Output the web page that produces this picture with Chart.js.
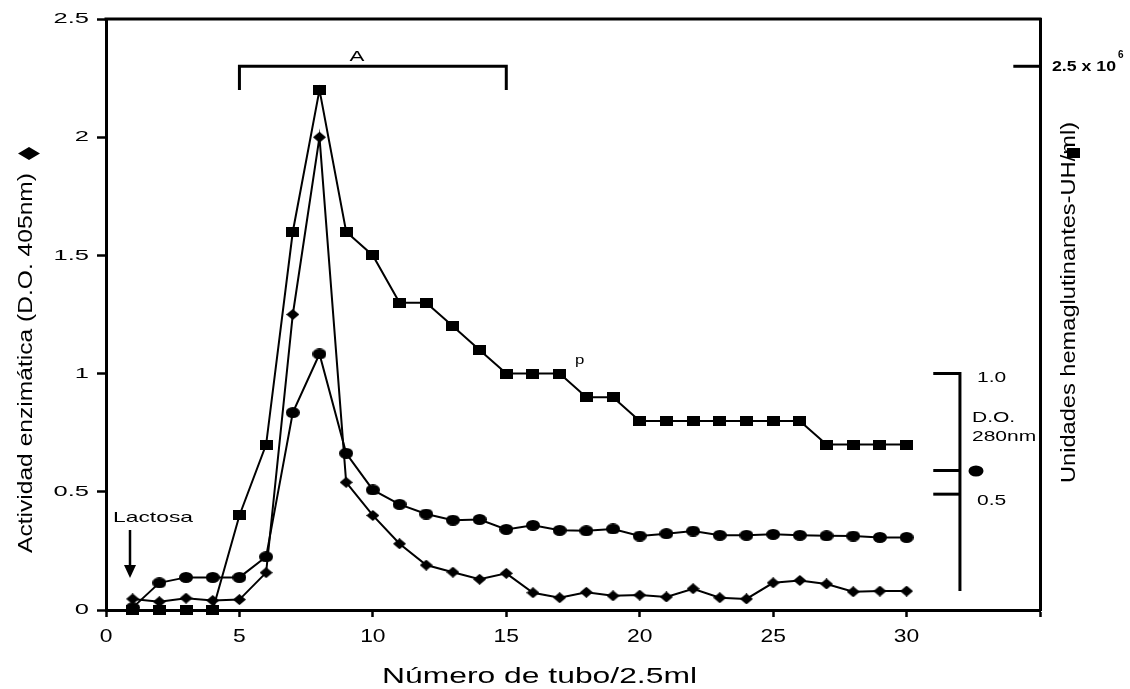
<!DOCTYPE html>
<html>
<head>
<meta charset="utf-8">
<script src="https://cdn.jsdelivr.net/npm/chart.js@4.4.1/dist/chart.umd.min.js"></script>
<style>
  html, body { margin: 0; padding: 0; background: #fff; }
  #grafico { display: block; }
</style>
</head>
<body>
<canvas id="grafico" width="1130" height="689"></canvas>
<script>
// Datos (tubos 1 a 30)
const tubos = [1, 2, 3, 4, 5, 6, 7, 8, 9, 10, 11, 12, 13, 14, 15, 16, 17, 18, 19, 20, 21, 22, 23, 24, 25, 26, 27, 28, 29, 30];
const hemaglutinacion = [0, 0, 0, 0, 0.4, 0.7, 1.6, 2.2, 1.6, 1.5, 1.3, 1.3, 1.2, 1.1, 1.0, 1.0, 1.0, 0.9, 0.9, 0.8, 0.8, 0.8, 0.8, 0.8, 0.8, 0.8, 0.7, 0.7, 0.7, 0.7];
const actividad = [0.047, 0.035, 0.05, 0.04, 0.044, 0.158, 1.25, 2.0, 0.54, 0.40, 0.28, 0.19, 0.16, 0.13, 0.155, 0.073, 0.052, 0.075, 0.06, 0.063, 0.055, 0.09, 0.052, 0.047, 0.115, 0.125, 0.11, 0.077, 0.08, 0.08];
const proteina = [0.01, 0.115, 0.138, 0.138, 0.138, 0.225, 0.835, 1.083, 0.663, 0.508, 0.447, 0.406, 0.38, 0.383, 0.341, 0.358, 0.337, 0.335, 0.343, 0.313, 0.323, 0.334, 0.316, 0.316, 0.32, 0.316, 0.314, 0.313, 0.307, 0.307];
const ticksX = [0, 5, 10, 15, 20, 25, 30];
const ticksY = [0, 0.5, 1, 1.5, 2, 2.5];

const fuente = "'Liberation Sans', Arial, sans-serif";

// marcadores un poco achatados, como en la figura original
function marcador(forma, w, h) {
  const c = document.createElement('canvas');
  c.width = w; c.height = h;
  const g = c.getContext('2d');
  g.fillStyle = '#000';
  g.beginPath();
  if (forma === 'cuadro') {
    g.rect(0, 0, w, h);
  } else if (forma === 'rombo') {
    g.moveTo(w / 2, 0); g.lineTo(w, h / 2); g.lineTo(w / 2, h); g.lineTo(0, h / 2); g.closePath();
  } else {
    g.ellipse(w / 2, h / 2, w / 2, h / 2, 0, 0, Math.PI * 2);
  }
  g.fill();
  return c;
}

// texto con escala horizontal (la figura tiene el texto estirado o comprimido)
function texto(ctx, str, x, y, o) {
  ctx.save();
  ctx.font = o.font;
  ctx.textAlign = o.align || 'left';
  ctx.textBaseline = o.baseline || 'middle';
  ctx.fillStyle = '#000';
  ctx.translate(x, y);
  if (o.rot) ctx.rotate(o.rot);
  let sx = o.sx || 1;
  if (o.ancho) sx = o.ancho / ctx.measureText(str).width;
  ctx.scale(sx, 1);
  ctx.fillText(str, 0, 0);
  ctx.restore();
}

function linea(ctx, pts, w) {
  ctx.lineWidth = w;
  ctx.beginPath();
  ctx.moveTo(pts[0][0], pts[0][1]);
  for (let i = 1; i < pts.length; i++) ctx.lineTo(pts[i][0], pts[i][1]);
  ctx.stroke();
}

const extras = {
  id: 'extras',
  afterDraw(chart) {
    const ctx = chart.ctx;
    const a = chart.chartArea;
    const sx = chart.scales.x, sy = chart.scales.y;
    const px = v => sx.getPixelForValue(v);
    const py = v => sy.getPixelForValue(v);
    ctx.save();
    ctx.strokeStyle = '#000';
    ctx.fillStyle = '#000';
    ctx.lineCap = 'butt';

    // borde superior
    linea(ctx, [[a.left - 1.5, a.top], [a.right + 1.5, a.top]], 3);

    // etiquetas de los ejes
    ticksY.forEach(v => texto(ctx, String(v), 89, py(v), { font: '15px ' + fuente, sx: 1.7, align: 'right' }));
    ticksX.forEach(v => texto(ctx, String(v), px(v), 637, { font: '18px ' + fuente, sx: 1.27, align: 'center' }));

    // títulos
    texto(ctx, 'Número de tubo/2.5ml', 382, 683, { font: '22px ' + fuente, ancho: 315, baseline: 'alphabetic' });
    texto(ctx, 'Actividad enzimática (D.O. 405nm)', 32, 553, { font: '21px ' + fuente, ancho: 380, baseline: 'alphabetic', rot: -Math.PI / 2 });
    ctx.beginPath();
    ctx.moveTo(18, 153.5); ctx.lineTo(29, 147); ctx.lineTo(40, 153.5); ctx.lineTo(29, 160); ctx.closePath();
    ctx.fill();
    texto(ctx, 'Unidades hemaglutinantes-UH/ml)', 1075, 483, { font: '21px ' + fuente, ancho: 361, baseline: 'alphabetic', rot: -Math.PI / 2 });
    ctx.fillRect(1067, 148, 13, 10);

    // eje derecho: marca 2.5 x 10^6
    linea(ctx, [[px(34), py(2.3)], [a.right, py(2.3)]], 3);
    texto(ctx, '2.5 x 10', 1052, 67, { font: 'bold 14px ' + fuente, ancho: 64 });
    texto(ctx, '6', 1118, 55, { font: 'bold 10px ' + fuente });

    // corchete A
    linea(ctx, [[px(5), py(2.2)], [px(5), py(2.3)], [px(15), py(2.3)], [px(15), py(2.2)]], 3);
    texto(ctx, 'A', 357, 57, { font: '14px ' + fuente, sx: 1.6, align: 'center' });
    texto(ctx, 'p', 575, 361, { font: '12px ' + fuente, sx: 1.4 });

    // Lactosa y flecha
    texto(ctx, 'Lactosa', 113, 522, { font: '15px ' + fuente, ancho: 80, baseline: 'alphabetic' });
    linea(ctx, [[130, 530], [130, 567]], 2.5);
    ctx.beginPath();
    ctx.moveTo(124, 565); ctx.lineTo(136, 565); ctx.lineTo(130, 578); ctx.closePath();
    ctx.fill();

    // escala D.O. 280nm
    linea(ctx, [[px(31), py(1.0)], [px(32), py(1.0)], [px(32), py(0.08)]], 3);
    linea(ctx, [[px(31), py(0.59)], [px(32), py(0.59)]], 3);
    linea(ctx, [[px(31), py(0.49)], [px(32), py(0.49)]], 3);
    texto(ctx, '1.0', 977, 378, { font: '15px ' + fuente, sx: 1.4 });
    texto(ctx, 'D.O.', 972, 418, { font: '15px ' + fuente, sx: 1.4 });
    texto(ctx, '280nm', 972, 437, { font: '15px ' + fuente, sx: 1.4 });
    texto(ctx, '0.5', 977, 501, { font: '15px ' + fuente, sx: 1.4 });
    ctx.beginPath();
    ctx.ellipse(976, 471, 7.5, 5.5, 0, 0, Math.PI * 2);
    ctx.fill();

    ctx.restore();
  }
};

const serie = (valores, estilo) => ({
  data: tubos.map((t, i) => ({ x: t, y: valores[i] })),
  borderColor: '#000',
  borderWidth: 2,
  tension: 0,
  pointStyle: estilo,
  pointRadius: 7,
  pointBorderWidth: 0,
  clip: false
});

const ctx = document.getElementById('grafico').getContext('2d');
const grafico = new Chart(ctx, {
  type: 'line',
  data: {
    datasets: [
      serie(proteina, marcador('circulo', 14, 11)),
      serie(actividad, marcador('rombo', 13, 11)),
      serie(hemaglutinacion, marcador('cuadro', 13, 10))
    ]
  },
  options: {
    responsive: false,
    animation: false,
    layout: { padding: { top: 19, right: 90, bottom: 0, left: 0 } },
    plugins: { legend: { display: false }, tooltip: { enabled: false } },
    scales: {
      x: {
        type: 'linear', min: 0, max: 35,
        afterFit(s) { s.height = 79; },
        ticks: { display: false, stepSize: 5 },
        grid: { drawOnChartArea: false, drawTicks: true, tickLength: 7, tickColor: '#000', tickWidth: 2.5 },
        border: { color: '#000', width: 3 }
      },
      y: {
        min: 0, max: 2.5,
        afterFit(s) { s.width = 106; },
        ticks: { display: false, stepSize: 0.5 },
        grid: { drawOnChartArea: false, drawTicks: true, tickLength: 9, tickColor: '#000', tickWidth: 2.5 },
        border: { color: '#000', width: 3 }
      },
      y2: {
        position: 'right',
        afterFit(s) { s.width = 0; },
        ticks: { display: false },
        grid: { display: false },
        border: { color: '#000', width: 3 }
      }
    }
  },
  plugins: [extras]
});
</script>
</body>
</html>
